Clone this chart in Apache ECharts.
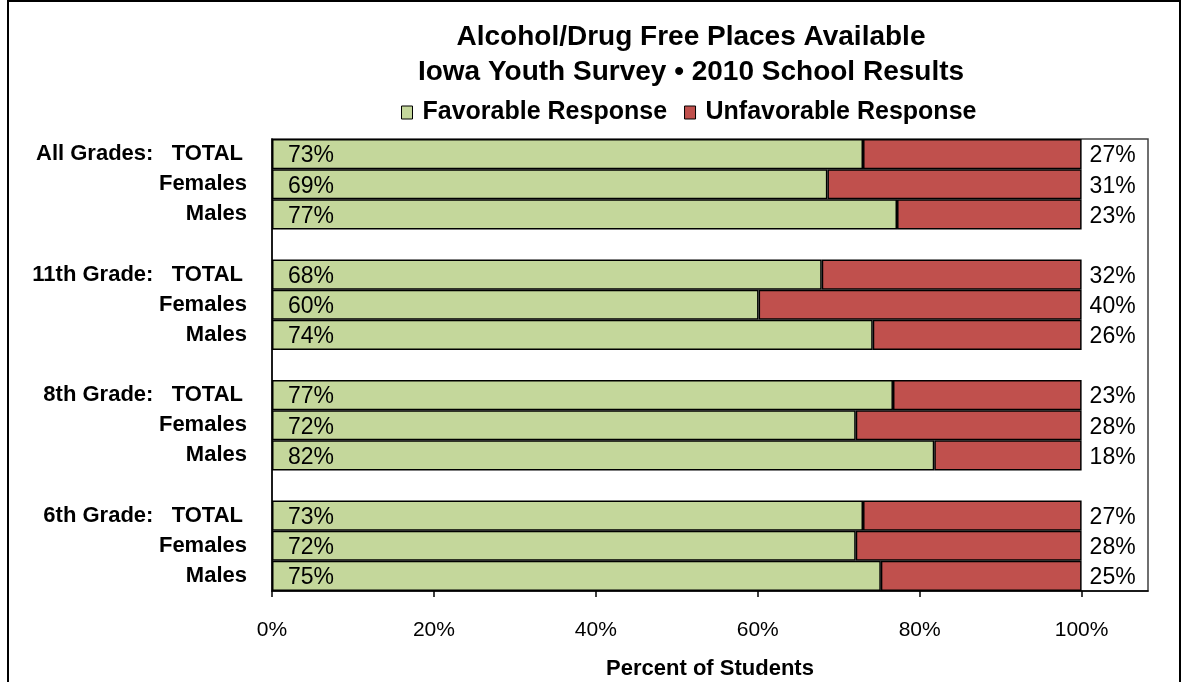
<!DOCTYPE html>
<html>
<head>
<meta charset="utf-8">
<script src="https://cdn.jsdelivr.net/npm/echarts@6/dist/echarts.min.js"></script>
<style>
html,body{margin:0;padding:0;background:#fff;}
#chart{width:1188px;height:682px;}
</style>
</head>
<body>
<div id="chart"></div>
<script>
const categories = [
  'All Grades:   TOTAL', 'Females', 'Males', ' ',
  '11th Grade:   TOTAL', 'Females', 'Males', '  ',
  '8th Grade:   TOTAL', 'Females', 'Males', '   ',
  '6th Grade:   TOTAL', 'Females', 'Males'
];
const favorable = [73.0, 68.6, 77.2, null, 67.9, 60.1, 74.2, null, 76.7, 72.1, 81.8, null, 73.0, 72.1, 75.2];
const unfavorable = [27.0, 31.4, 22.8, null, 32.1, 39.9, 25.8, null, 23.3, 27.9, 18.2, null, 27.0, 27.9, 24.8];
const xTicks = [0, 20, 40, 60, 80, 100];

const chart = echarts.init(document.getElementById('chart'), null, {renderer: 'canvas'});
const font = 'Liberation Sans, Arial, sans-serif';
const pct = p => (p.value == null ? '' : Math.round(p.value) + '%');

chart.setOption({
  animation: false,
  textStyle: {fontFamily: font, color: '#000'},
  title: {
    text: 'Alcohol/Drug Free Places Available\nIowa Youth Survey \u2022 2010 School Results',
    left: 686, top: 15, textAlign: 'center',
    textStyle: {fontFamily: font, fontSize: 28, fontWeight: 'bold', color: '#000', lineHeight: 35}
  },
  legend: {
    top: 95, left: 396,
    icon: 'rect', itemWidth: 11, itemHeight: 13, itemGap: 17,
    textStyle: {fontFamily: font, fontSize: 25, fontWeight: 'bold', color: '#000', padding: [0, 0, 0, 5]},
    itemStyle: {borderColor: '#000', borderWidth: 1}
  },
  graphic: [{
    type: 'rect', shape: {x: 8, y: 1, width: 1172, height: 700},
    style: {fill: 'none', stroke: '#000', lineWidth: 2}, silent: true
  }],
  grid: {
    left: 272, right: 40, top: 139, bottom: 91,
    outerBoundsMode: 'none', containLabel: false,
    show: true, borderColor: '#404040', borderWidth: 1.5, backgroundColor: 'transparent'
  },
  xAxis: {
    type: 'value', min: 0, max: 108.2, interval: 20,
    splitLine: {show: false},
    axisLine: {show: true, lineStyle: {color: '#000', width: 1.5}},
    axisTick: {show: true, length: 6, inside: false, lineStyle: {color: '#000', width: 1.5}, customValues: xTicks},
    axisLabel: {fontFamily: font, fontSize: 21, color: '#000', margin: 29, customValues: xTicks,
      formatter: v => v + '%'},
    name: 'Percent of Students', nameLocation: 'middle', nameGap: 67,
    nameTextStyle: {fontFamily: font, fontSize: 22, fontWeight: 'bold', color: '#000'}
  },
  yAxis: {
    type: 'category', data: categories, inverse: true,
    axisLine: {show: true, lineStyle: {color: '#000', width: 1.5}},
    axisTick: {show: false},
    axisLabel: {
      margin: 25,
      formatter: v => (v.indexOf('TOTAL') >= 0 ? '{g|' + v + '}' : '{s|' + v + '}'),
      rich: {
        g: {fontFamily: font, fontSize: 22, fontWeight: 'bold', color: '#000', padding: [0, 4, 0, 0]},
        s: {fontFamily: font, fontSize: 22, fontWeight: 'bold', color: '#000'}
      }
    }
  },
  series: [
    {
      name: 'Favorable Response', type: 'bar', stack: 'total', data: favorable,
      barCategoryGap: 0, barWidth: '100%',
      itemStyle: {color: '#C4D79B', borderColor: '#000', borderWidth: 1.5},
      label: {show: true, position: 'insideLeft', distance: 16, offset: [0, 2],
        fontFamily: font, fontSize: 23, color: '#000', formatter: pct}
    },
    {
      name: 'Unfavorable Response', type: 'bar', stack: 'total', data: unfavorable,
      barCategoryGap: 0, barWidth: '100%',
      itemStyle: {color: '#C0504D', borderColor: '#000', borderWidth: 1.5},
      label: {show: true, position: 'right', distance: 8, offset: [0, 2],
        fontFamily: font, fontSize: 23, color: '#000', formatter: pct}
    }
  ]
});
</script>
</body>
</html>
